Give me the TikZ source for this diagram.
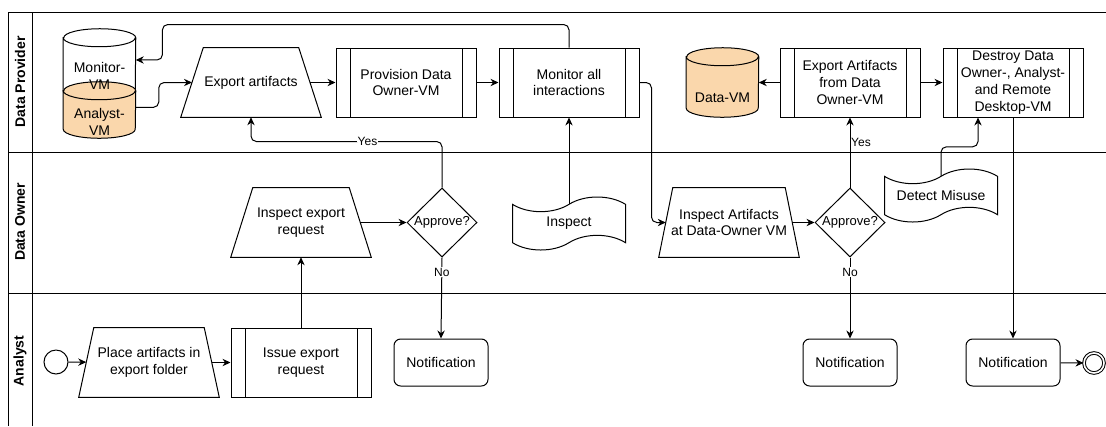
\documentclass[tikz,border=0pt]{standalone}
\usepackage{fontspec}
\setmainfont{Liberation Sans}
\usetikzlibrary{shapes.geometric,shapes.symbols,arrows.meta}
\definecolor{vmfill}{HTML}{FAD7AC}
\tikzset{
  lane/.style={line width=0.75pt},
  lanetxt/.style={rotate=90,font=\fontsize{10.5}{12.6}\selectfont\bfseries},
  box/.style={draw,line width=0.75pt,fill=white,align=center,inner sep=1pt},
  proc/.style={box,minimum width=105pt,minimum height=51.75pt,
    path picture={\draw[line width=0.75pt]
      ([xshift=10.5pt]path picture bounding box.north west) -- ([xshift=10.5pt]path picture bounding box.south west)
      ([xshift=-10.5pt]path picture bounding box.north east) -- ([xshift=-10.5pt]path picture bounding box.south east);}},
  trap/.style={align=center,inner sep=1pt,minimum height=51.75pt,minimum width=105pt-#1,
    append after command={\pgfextra{\draw[line width=0.75pt]
      ([xshift=#1/2]\tikzlastnode.north west) -- ([xshift=-#1/2]\tikzlastnode.north east)
      -- ([xshift=#1/2]\tikzlastnode.south east) -- ([xshift=-#1/2]\tikzlastnode.south west) -- cycle;}}},
  decide/.style={box,diamond,minimum width=52.5pt,minimum height=51.75pt,inner sep=0pt,
    label={[font=\fontsize{9.75}{11}\selectfont]center:#1}},
  doc/.style={box,tape,tape bend height=11pt,minimum width=84.75pt,minimum height=39.75pt},
  vm/.style={minimum width=54pt,inner sep=0pt,
    append after command={\pgfextra{\draw[line width=0.75pt,fill=#1]
      ([yshift=-6.75pt]\tikzlastnode.north west) -- ([yshift=6.75pt]\tikzlastnode.south west)
      arc[start angle=180,end angle=360,x radius=27pt,y radius=6.75pt]
      -- ([yshift=-6.75pt]\tikzlastnode.north east)
      arc[start angle=0,end angle=180,x radius=27pt,y radius=6.75pt] -- cycle
      ([yshift=-6.75pt]\tikzlastnode.north west) arc[start angle=180,end angle=360,x radius=27pt,y radius=6.75pt];}}},
  vm/.default=white,
  vmtxt/.style={align=center,inner sep=0pt},
  notif/.style={box,rounded corners=5pt,minimum width=70.5pt,minimum height=35.25pt},
  startev/.style={draw,circle,line width=0.75pt,minimum size=18pt,inner sep=0pt},
  endev/.style={draw,circle,line width=0.75pt,double,double distance=1.2pt,minimum size=15pt,inner sep=0pt},
  conn/.style={line width=0.75pt,-{Stealth[length=6pt,width=5.5pt]},rounded corners=4pt},
  lbl/.style={fill=white,inner sep=0.5pt,font=\fontsize{9}{10}\selectfont}
}
\begin{document}
\begin{tikzpicture}[x=0.75pt,y=-0.75pt,font=\fontsize{10.5}{12.6}\selectfont]
\useasboundingbox (0,0) rectangle (1106,426);
% lanes
\draw[lane] (1106,12) -- (8,12) -- (8,426) (32,12) -- (32,426)
  (8,152) -- (1106,152) (8,293) -- (1106,293);
\node[lanetxt] (lprov) at (20,82) {Data Provider};
\node[lanetxt] (lown) at (20,222) {Data Owner};
\node[lanetxt] (lana) at (20,361) {Analyst};

% data provider
\node[vm,minimum height=53.25pt] (monvm) at (99.5,64.5) {};
\node[vm=vmfill,minimum height=42pt] (anavm) at (99.5,110) {};
\node[vmtxt] (monvmt) at (99.5,76) {Monitor-\\VM};
\node[vmtxt] (anavmt) at (99.5,122) {Analyst-\\VM};
\node[trap=16.875pt] (exp) at (251,82.5) {Export artifacts};
\node[proc] (prov) at (406,82.5) {Provision Data\\Owner-VM};
\node[proc] (mon) at (569,82.5) {Monitor all\\interactions};
\node[vm=vmfill,minimum height=51.75pt] (datavm) at (722.5,82.5) {};
\node[vmtxt] (datavmt) at (722.5,98) {Data-VM};
\node[proc] (expdo) at (850,82.5) {Export Artifacts\\from Data\\Owner-VM};
\node[proc] (destroy) at (1013,82.5) {Destroy Data\\Owner-, Analyst-\\and Remote\\Desktop-VM};

% data owner
\node[trap=16.5pt] (ier) at (301,222.5) {Inspect export\\request};
\node[decide=Approve?] (appr1) at (442,222.5) {};
\node[doc] (insp) at (569,223.5) {Inspect};
\node[trap=10.5pt] (iaa) at (729,222.5) {Inspect Artifacts\\at Data-Owner VM};
\node[decide=Approve?] (appr2) at (850,222.5) {};
\node[doc] (misuse) at (941,195.5) {Detect Misuse};

% analyst
\node[startev] (startev) at (56,362) {};
\node[trap=11.25pt] (place) at (149,362.5) {Place artifacts in\\export folder};
\node[proc] (issue) at (301,362.5) {Issue export\\request};
\node[notif] (note1) at (441,362.5) {Notification};
\node[notif] (note2) at (850,362.5) {Notification};
\node[notif] (note3) at (1013,362.5) {Notification};
\node[endev] (endev) at (1094,363) {};

% flow
\draw[conn] (startev) -- (place);
\draw[conn] (place) -- (issue);
\draw[conn] (issue) -- (ier);
\draw[conn] (ier) -- (appr1);
\draw[conn] (appr1.north) -- ++(0,-46) -- node[lbl,pos=.39]{Yes} ++(-191,0) -- (exp.south);
\draw[conn] (appr1.south) -- node[lbl,pos=.18]{No} (note1.north);
\draw[conn] ([yshift=2pt]anavm.east) -- ++(23,0) |- (exp.west);
\draw[conn] (exp) -- (prov);
\draw[conn] (prov) -- (mon);
\draw[conn] (mon.north) -- ++(0,-23) -| ([xshift=20pt,yshift=3.4pt]monvm.east) -- ([yshift=3.4pt]monvm.east);
\draw[conn] (insp.north) -- (mon.south);
\draw[conn] (mon.east) -- ++(12,0) |- (iaa.west);
\draw[conn] (iaa) -- (appr2);
\draw[conn] (appr2.north) -- node[lbl,fill=none,pos=.65,right]{Yes} (expdo.south);
\draw[conn] (appr2.south) -- node[lbl,pos=.18]{No} (note2.north);
\draw[conn] (expdo) -- (datavm);
\draw[conn] (expdo) -- (destroy);
\draw[conn] (misuse.north) -- ++(0,-29) -| ([xshift=-26.25pt]destroy.south);
\draw[conn] (destroy) -- (note3);
\draw[conn] (note3) -- (endev);
\end{tikzpicture}
\end{document}
